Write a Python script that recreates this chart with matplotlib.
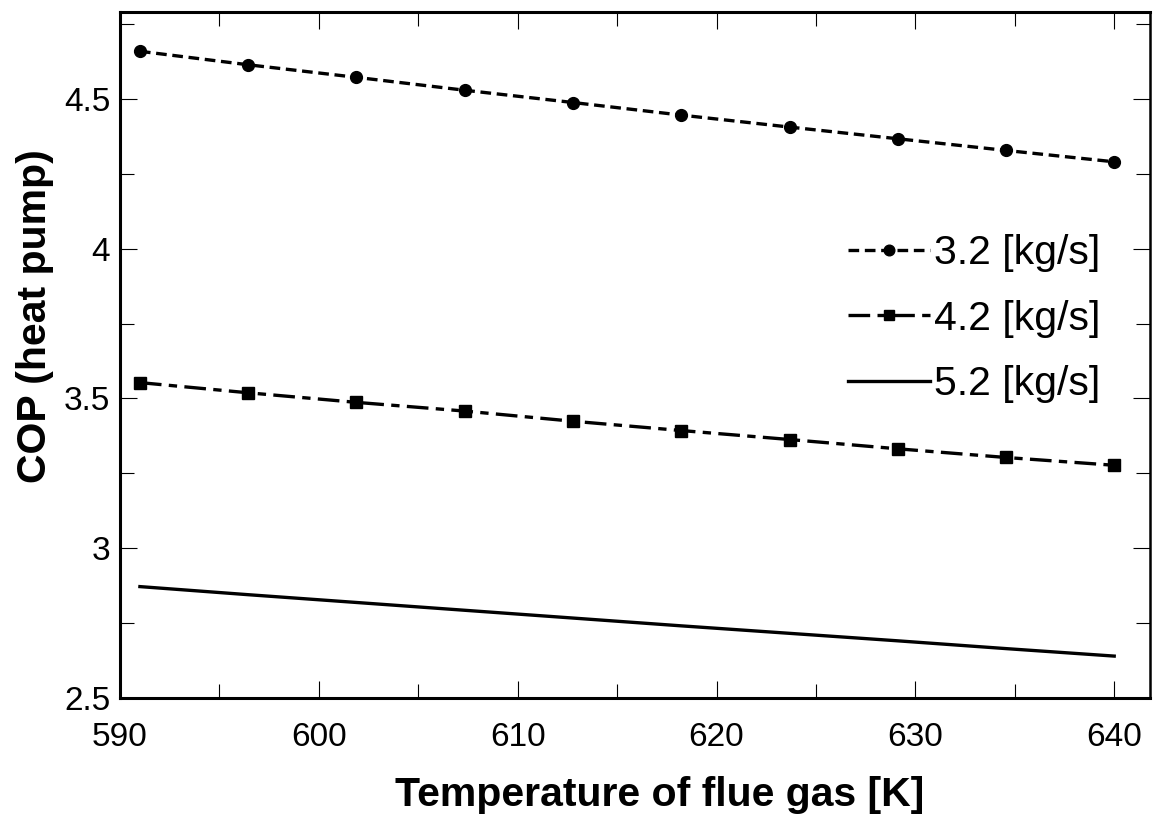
import matplotlib
matplotlib.use("Agg")
import matplotlib.pyplot as plt
from matplotlib.ticker import MultipleLocator, FormatStrFormatter

plt.rcParams["font.family"] = ["Liberation Sans", "DejaVu Sans"]

# flue gas temperature [K]
temp = [591.0, 596.44, 601.89, 607.33, 612.78, 618.22, 623.67, 629.11, 634.56, 640.0]

# COP for each mass flow
cop_32 = [4.659, 4.614, 4.572, 4.529, 4.488, 4.446, 4.406, 4.367, 4.328, 4.290]
cop_42 = [3.553, 3.519, 3.487, 3.458, 3.424, 3.393, 3.363, 3.332, 3.303, 3.277]
cop_52 = [2.872, 2.845, 2.819, 2.793, 2.767, 2.741, 2.716, 2.691, 2.665, 2.640]

labels = ["3.2 [kg/s]", "4.2 [kg/s]", "5.2 [kg/s]"]

fig = plt.figure(figsize=(11.53, 8.19), dpi=100)
ax = fig.add_axes([0.1041, 0.1477, 0.8933, 0.8376])

lw = 2.4
ax.plot(temp, cop_32, color="black", linewidth=lw, dashes=(3.2, 1.7),
        marker="o", markersize=8.5, label=labels[0])
ax.plot(temp, cop_42, color="black", linewidth=lw, dashes=(6.5, 2.2, 2.5, 2.2),
        marker="s", markersize=8.5, label=labels[1])
ax.plot(temp, cop_52, color="black", linewidth=lw, linestyle="-", label=labels[2])

ax.set_xlim(590, 641.8)
ax.set_ylim(2.5, 4.79)

ax.xaxis.set_major_locator(MultipleLocator(10))
ax.xaxis.set_minor_locator(MultipleLocator(5))
ax.yaxis.set_major_locator(MultipleLocator(0.5))
ax.yaxis.set_minor_locator(MultipleLocator(0.25))
ax.yaxis.set_major_formatter(FormatStrFormatter("%g"))

ax.tick_params(which="both", direction="in", top=True, right=True, width=0.8)
ax.tick_params(which="major", length=12.5, labelsize=24)
ax.tick_params(axis="x", which="major", pad=17)
ax.tick_params(axis="y", which="major", pad=7)
ax.tick_params(which="minor", length=10)

for side in ["left", "bottom", "top"]:
    ax.spines[side].set_linewidth(2.2)
ax.spines["right"].set_linewidth(1.8)

ax.set_xlabel("Temperature of flue gas [K]", fontsize=29.5, fontweight="bold")
ax.set_ylabel("COP (heat pump)", fontsize=29.5, fontweight="bold")
ax.xaxis.set_label_coords(0.524, -0.113)
ax.yaxis.set_label_coords(-0.064, 0.557)

ax.legend(loc="upper left", bbox_to_anchor=(0.707, 0.676), frameon=False,
          fontsize=29.5, handlelength=2.0, handletextpad=0.1,
          borderpad=0, borderaxespad=0, labelspacing=0.67, markerscale=0.9)

fig.savefig("out.png", dpi=100)
